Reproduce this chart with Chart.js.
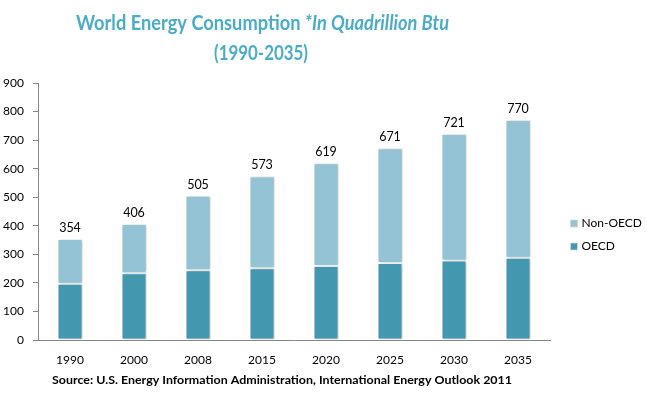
<!DOCTYPE html>
<html>
<head>
<meta charset="utf-8">
<script src="https://cdn.jsdelivr.net/npm/chart.js@4/dist/chart.umd.min.js"></script>
<style>
html,body{margin:0;padding:0;background:#fff;}
#wrap{width:647px;height:397px;position:relative;}
</style>
</head>
<body>
<div id="wrap"><canvas id="c" width="647" height="397"></canvas></div>
<script>
const years = ['1990','2000','2008','2015','2020','2025','2030','2035'];
const oecd = [197, 234, 244, 251, 259, 270, 278, 288];
const nonOecd = [157, 172, 261, 322, 360, 401, 443, 482];
const totals = [354, 406, 505, 573, 619, 671, 721, 770];
const yTicks = [0,100,200,300,400,500,600,700,800,900];

const FONT = "Lato, 'Open Sans', sans-serif";
const TITLE_COLOR = '#4BACC6';
const C_OECD = '#4398B0';
const C_NON = '#93C3D5';

function drawFitted(ctx, parts, cx, baseline, targetW, color) {
  ctx.save();
  ctx.fillStyle = color;
  ctx.textBaseline = 'alphabetic';
  ctx.textAlign = 'left';
  let total = 0;
  const ws = parts.map(p => { ctx.font = p.font; const w = ctx.measureText(p.text).width; total += w; return w; });
  const s = targetW / total;
  ctx.translate(cx - targetW / 2, baseline);
  ctx.scale(s, 1);
  let x = 0;
  parts.forEach((p, i) => { ctx.font = p.font; ctx.fillText(p.text, x, 0); x += ws[i]; });
  ctx.restore();
}

const decor = {
  id: 'decor',
  beforeDatasetDraw(chart) {
    const ctx = chart.ctx;
    ctx.save();
    ctx.shadowColor = 'rgba(0,0,0,0.28)';
    ctx.shadowBlur = 3;
    ctx.shadowOffsetX = 1.5;
    ctx.shadowOffsetY = 0;
  },
  afterDatasetDraw(chart) {
    chart.ctx.restore();
  },
  afterDraw(chart) {
    const ctx = chart.ctx;
    drawFitted(ctx, [
      {text: 'World Energy Consumption ', font: "bold 21px " + FONT},
      {text: '*In Quadrillion Btu', font: "italic bold 21px " + FONT}
    ], 262.5, 30, 373, TITLE_COLOR);
    drawFitted(ctx, [{text: '(1990-2035)', font: "bold 21px " + FONT}], 261, 59.5, 94, TITLE_COLOR);
    drawFitted(ctx, [{text: 'Source: U.S. Energy Information Administration, International Energy Outlook 2011', font: "bold 12px " + FONT}], 282, 384, 460, '#000');
    const top = chart.getDatasetMeta(1);
    ctx.save();
    ctx.font = "12.5px " + FONT;
    ctx.fillStyle = '#000';
    ctx.textAlign = 'center';
    ctx.textBaseline = 'middle';
    top.data.forEach((bar, i) => {
      ctx.fillText(String(totals[i]), bar.x, bar.y - 11);
    });
    ctx.restore();
    const items = [
      {label: chart.data.datasets[1].label, color: chart.data.datasets[1].backgroundColor, y: 223.5},
      {label: chart.data.datasets[0].label, color: chart.data.datasets[0].backgroundColor, y: 246.5}
    ];
    ctx.save();
    ctx.font = "12px " + FONT;
    ctx.textBaseline = 'middle';
    ctx.textAlign = 'left';
    items.forEach(it => {
      ctx.fillStyle = it.color;
      ctx.fillRect(570.5, it.y - 3.5, 7, 7);
      ctx.strokeStyle = '#d8d8d8';
      ctx.lineWidth = 0.8;
      ctx.strokeRect(570.5, it.y - 3.5, 7, 7);
      ctx.fillStyle = '#000';
      ctx.fillText(it.label, 581.5, it.y);
    });
    ctx.restore();
  }
};

new Chart(document.getElementById('c'), {
  type: 'bar',
  data: {
    labels: years,
    datasets: [
      {label: 'OECD', data: oecd, backgroundColor: C_OECD, borderColor: '#ffffff', borderWidth: 1, borderSkipped: false,
       categoryPercentage: 1, barPercentage: 0.39},
      {label: 'Non-OECD', data: nonOecd, backgroundColor: C_NON, borderColor: '#ffffff', borderWidth: 1, borderSkipped: false,
       categoryPercentage: 1, barPercentage: 0.39}
    ]
  },
  options: {
    responsive: false,
    animation: false,
    devicePixelRatio: 1,
    layout: {padding: {left: 0, top: 83, right: 97, bottom: 0}},
    plugins: {legend: {display: false}, title: {display: false}, tooltip: {enabled: false}},
    scales: {
      x: {
        stacked: true,
        grid: {display: false},
        border: {display: true, color: '#868686', width: 1},
        ticks: {color: '#000', font: {family: FONT, size: 12}, padding: 5, maxRotation: 0},
        afterFit(scale) { scale.height = 57; }
      },
      y: {
        stacked: true,
        min: 0, max: 900,
        afterBuildTicks(scale) { scale.ticks = yTicks.map(v => ({value: v})); },
        grid: {display: true, drawOnChartArea: false, drawTicks: true, tickLength: 5, color: '#868686'},
        border: {display: true, color: '#868686', width: 1},
        ticks: {color: '#000', font: {family: FONT, size: 12}, padding: 9},
        afterFit(scale) { scale.width = 38; }
      }
    }
  },
  plugins: [decor]
});
</script>
</body>
</html>
